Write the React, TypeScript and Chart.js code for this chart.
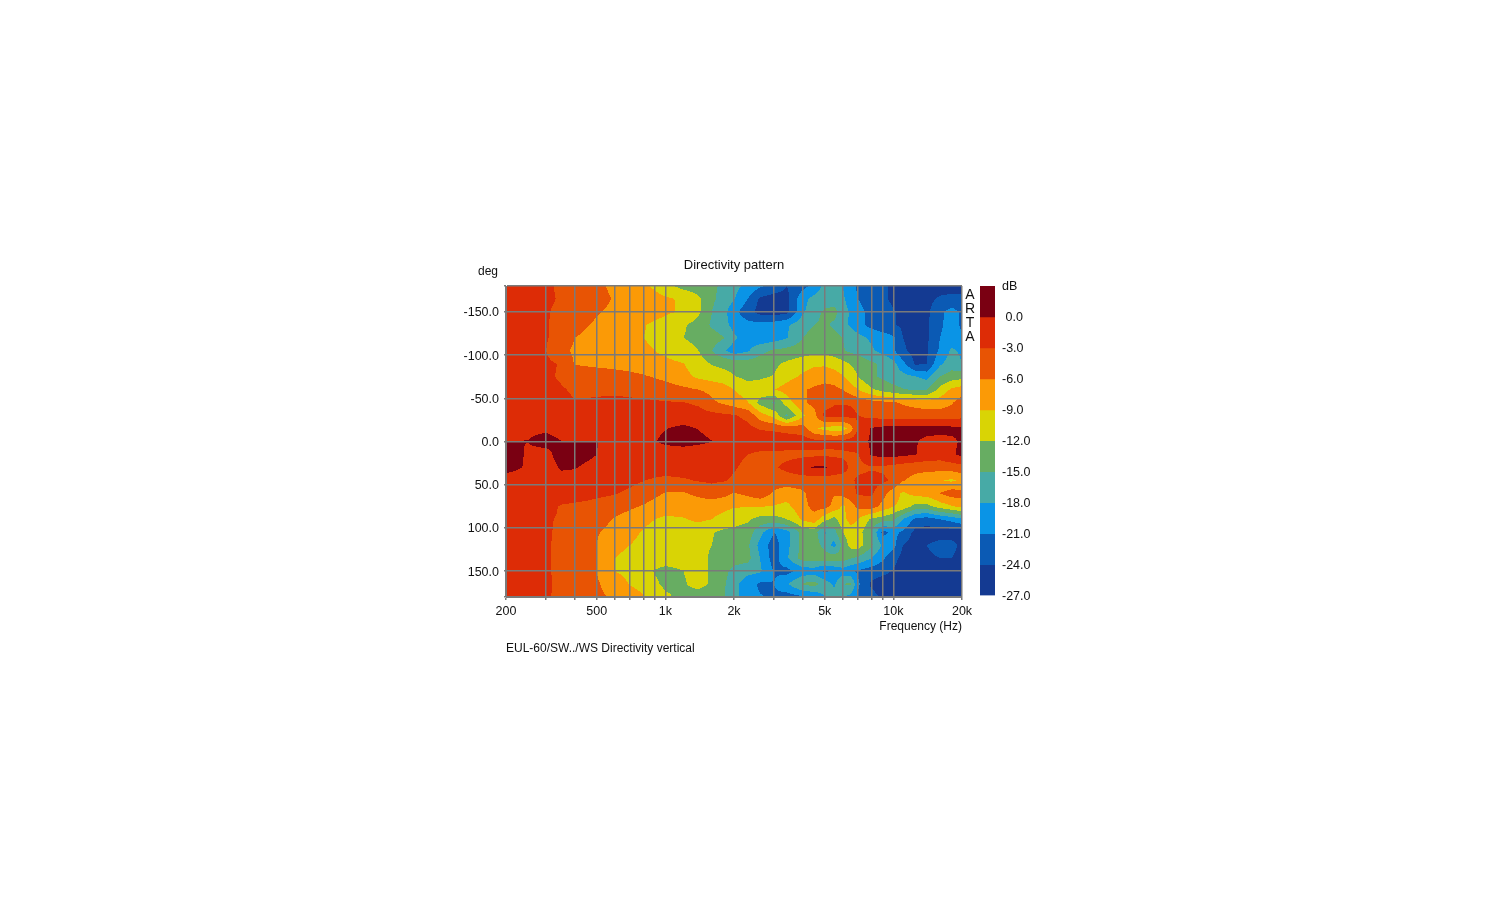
import React, { useEffect, useRef } from "react";
import { Chart, registerables } from "chart.js";

Chart.register(...registerables);

const freqs = [200,250,300,350,400,450,500,600,700,800,900,1000,1200,1400,1600,1800,2000,2300,2600,3000,3400,4000,4500,5000,5500,6000,6500,7000,8000,9000,10000,11000,12500,14000,16000,18000,20000];
const angles = [-180,-165,-150,-135,-120,-105,-90,-75,-60,-45,-30,-15,0,15,30,45,60,75,90,105,120,135,150,165,180];

const rowM180 = [-1.5,-1.5,-2.5,-3.5,-4.5,-5,-5.5,-6.5,-7.5,-8.5,-9.5,-11,-13,-13.5,-14.5,-15.5,-17,-19,-20.5,-22,-24,-22,-20,-17,-16.5,-18,-20,-21.5,-23,-23.5,-24.5,-25.5,-25.5,-25.5,-25.5,-25.5,-25.5];
const rowM165 = [-1.5,-1.5,-2.5,-3.3,-4,-4.5,-5.2,-6.2,-7,-7.5,-8,-8.5,-9.5,-11.5,-14.5,-16,-17.8,-21,-24.5,-25.5,-25,-19,-17,-16.5,-16.5,-17.5,-19.5,-21,-22.5,-23.5,-24.5,-25.5,-25.5,-25,-23.5,-23,-23];
const rowM150 = [-1.5,-2,-2.8,-3.6,-4.3,-5,-5.8,-6.5,-7,-7.5,-8,-8.6,-9.3,-11.5,-15,-17,-20,-23,-25,-25.5,-25,-18.5,-16,-14.5,-14,-16.5,-18.5,-20,-22,-23,-23.8,-24.5,-25.5,-24.8,-21.5,-20,-21.5];
const rowM135 = [-1.5,-2,-2.8,-3.8,-4.8,-5.8,-6.4,-7.2,-8,-8.8,-9.5,-10,-11.7,-13,-15.5,-17,-19,-20,-20,-19.5,-18.5,-16,-15,-14.5,-15.5,-17,-18.5,-20,-22,-23,-23.8,-24.5,-25,-24.5,-21.5,-19.8,-21.5];
const rowM120 = [-1.5,-2,-2.8,-4,-6,-6.6,-7,-7.6,-8.3,-9,-9.6,-10,-12,-12.8,-13.5,-14.8,-17.5,-19.5,-20,-19.5,-18.2,-15,-14,-13.5,-14,-15,-16,-17,-18.5,-19.5,-20.5,-24,-25,-24.5,-21,-19.5,-20.5];
const rowM105 = [-1.5,-2,-3,-5.2,-6.5,-6.8,-7,-7.4,-7.9,-8.4,-9,-9.6,-10.8,-12,-15,-17.5,-19.5,-18.3,-16,-14.5,-14,-13.5,-13,-13,-13.5,-14.8,-15.5,-16,-17.5,-19,-20.5,-23.5,-25,-24.5,-20.5,-17.5,-18.5];
const rowM90 = [-1.5,-1.8,-2.5,-3.2,-6.2,-6.5,-6.7,-6.9,-7.2,-7.6,-8,-8.3,-8.9,-10.5,-12.2,-12.8,-13.2,-13.5,-13.2,-12.6,-11.5,-10.2,-9.5,-9.5,-10.2,-11,-12.2,-13,-14.5,-15.5,-17,-20,-24.5,-24,-18.5,-16.5,-18];
const rowM75 = [-1.5,-1.8,-2.6,-3.3,-3.8,-4,-4.3,-4.8,-5.2,-5.7,-6.2,-6.8,-8.2,-9.5,-10.2,-10.8,-11.8,-12.8,-12.5,-11.8,-10,-8.5,-7.5,-7,-7.5,-8.8,-10.5,-12,-14.5,-15.5,-16.5,-17,-17.8,-19,-15,-13.5,-13];
const rowM60 = [-1.2,-1.5,-2,-2.8,-3.3,-3.4,-3.5,-3.5,-3.7,-3.9,-4.2,-4.5,-5.3,-6,-6.8,-7.4,-9,-10.5,-10.2,-9,-7.8,-6.3,-5.5,-5,-5.2,-6,-7.5,-9,-11.5,-13,-14,-14.8,-15.2,-15,-11,-8.5,-7.5];
const rowM45 = [-1.2,-1.4,-1.8,-2.4,-2.9,-2.8,-2.6,-2.4,-2.5,-2.6,-2.7,-2.8,-2.9,-3.5,-5.5,-6.5,-7.5,-8.8,-13,-15.5,-10.5,-6.5,-5,-4.5,-3.3,-3.2,-3.3,-4,-5,-5.3,-5.7,-6.3,-7,-7.5,-7.5,-6.3,-4.5];
const rowM30 = [-1.2,-1.2,-1.4,-1.5,-1.5,-1.5,-1.5,-1.5,-1.5,-1.4,-1.4,-1.4,-1.5,-1.8,-2,-2.4,-2.7,-3.8,-7.5,-10,-15.5,-9.5,-7,-2,-1.8,-1.8,-2.2,-2.9,-3.8,-4.2,-4.5,-4.5,-4.5,-4.5,-4.5,-4.3,-4];
const rowM15 = [-1,-0.5,-0.5,-1,-1.2,-1.2,-1.2,-1.1,-1,-0.8,-0.4,-0.1,0.6,-0.1,-0.7,-1,-1.5,-2.2,-3.2,-3.6,-4,-4.5,-8.5,-10,-10.5,-10.5,-7.5,-2.5,0.2,0.8,1,1,1,1,0.9,0.8,0.6];
const row0 = [0.05,0.05,1,0.05,0.05,0.05,0.05,-0.6,-0.7,-0.5,-0.1,0.5,1,0.6,0.05,-0.4,-0.8,-1.2,-1.2,-0.8,-1.3,-1.5,-2,-2.2,-2.2,-2,-1.5,-1.2,0.4,1,1.3,1,0.2,-0.7,-0.9,-0.6,0.4];
const row15 = [2,-0.5,-1,1.5,1.2,0.7,0,-0.6,-1,-1.2,-1.3,-1.4,-1.5,-1.8,-2,-2.2,-2.5,-3,-3.6,-3.8,-3.8,-3.7,-3.6,-3.5,-3.5,-3.5,-3.4,-3.2,0.3,1,1,0.6,0.1,-1,-1.5,-0.5,0.8];
const row30 = [0.8,-0.3,-1.5,0.4,0.2,-0.5,-1,-1.2,-1.3,-1.4,-1.5,-1.6,-1.7,-1.8,-2,-2.3,-2.8,-3.5,-4.2,-3.3,-2.3,-0.8,0.3,0.3,-1,-2,-3.5,-3.8,-3.3,-3.5,-4,-4.5,-5,-5,-4.8,-4.5,-4];
const row45 = [-1,-1,-1.1,-1.2,-1.3,-1.4,-1.5,-1.8,-2.2,-2.9,-3.4,-3.7,-3.3,-2.8,-2.6,-2.8,-3.3,-4,-4.5,-4.5,-4.5,-4.5,-4.5,-4.5,-4.5,-4.2,-3.5,-2.5,-2,-2.5,-3.5,-5.8,-7,-7.8,-8.8,-9.5,-8.5];
const row60 = [-1.2,-1.3,-1.4,-1.6,-1.7,-1.9,-2.2,-2.8,-3.6,-4.5,-5.4,-6.2,-6.3,-5.2,-4.2,-5,-6.2,-5.2,-4,-6.5,-7.5,-6.5,-4.5,-3.9,-5.8,-5,-3.8,-2.7,-2.5,-5,-7.5,-9.5,-8,-7.5,-6,-4.5,-5];
const row75 = [-1.5,-1.8,-2.3,-3.2,-3.5,-3.8,-4.2,-4.8,-5.5,-6.2,-7,-7.3,-7.7,-7.9,-8,-8.3,-8.8,-8.8,-8.8,-9.2,-9.8,-7,-5,-4.8,-7,-9.5,-7.5,-5,-4.5,-7,-8.8,-10,-13,-13,-10.5,-9.2,-8];
const row90 = [-1.7,-2,-2.8,-3.2,-3.8,-4.4,-5,-6.2,-7.2,-8.2,-9,-9.6,-9.2,-8.5,-9,-9.8,-10.5,-11.5,-13,-13,-12,-8.5,-7.2,-11,-13,-10,-7.8,-9,-12.5,-13.5,-14.5,-18,-21.5,-22.5,-21,-20,-18.5];
const row105 = [-1.7,-2,-2.8,-3.3,-4,-4.8,-5.8,-6.8,-8,-9.3,-10,-10.2,-10,-10.5,-11.8,-12.6,-13,-13.5,-17,-21,-19,-14,-13.5,-18.5,-16,-12,-10.5,-10.5,-15,-22,-20,-21.5,-25,-25.5,-25.5,-25.5,-25.5];
const row120 = [-1.7,-2,-2.8,-3.4,-4,-4.8,-6,-8.2,-9,-10,-10.4,-10.5,-10.8,-11.2,-12,-13,-13.5,-14.5,-19,-22.5,-19,-14,-13.5,-16,-19,-14,-11,-10.5,-14.5,-18.5,-20,-24,-25.5,-24,-23,-23,-24.8];
const row135 = [-1.7,-2,-2.8,-3.4,-4.1,-5,-6,-9,-9.8,-10.2,-10.4,-10.4,-10.5,-11,-12.5,-13,-13.5,-14,-18,-22.5,-18.5,-13.5,-13.5,-13.5,-13.5,-13.5,-14.8,-15.5,-18,-20.5,-23,-25,-25.5,-24.5,-24,-24,-25];
const row150 = [-1.7,-2,-2.8,-3.4,-4.1,-5,-6,-9,-10,-10.8,-12.2,-13,-12,-10.8,-12.5,-14,-16,-17,-17.5,-21.2,-22,-20,-19.5,-21.5,-20.5,-19.5,-20.5,-21.5,-22.5,-23.2,-24.2,-25.5,-25.5,-25.5,-25.5,-25.5,-25.5];
const row165 = [-1.7,-2,-2.8,-3.3,-4,-4.7,-5.7,-7.2,-9.2,-10,-11.5,-12.6,-12.3,-11,-12.5,-14.5,-17,-19.8,-21.5,-21,-18.5,-14.5,-14,-16.5,-18.5,-15,-14.5,-20.5,-24.5,-25.5,-25.5,-25.5,-25.5,-25.5,-25.5,-25.5,-25.5];
const row180 = [-1.7,-2,-2.8,-3.4,-4.1,-4.7,-5.5,-6.4,-7.5,-8.8,-10,-11.5,-12.8,-13.5,-14,-14.8,-17,-19.5,-20.8,-21.5,-22.5,-21.5,-20.5,-18,-16.5,-17.8,-19,-21.5,-23,-24.5,-25.5,-25.5,-25.5,-25.5,-25.5,-25.5,-25.5];
const dbRows = [rowM180,rowM165,rowM150,rowM135,rowM120,rowM105,rowM90,rowM75,rowM60,rowM45,rowM30,rowM15,row0,row15,row30,row45,row60,row75,row90,row105,row120,row135,row150,row165,row180];

const bandTops = [3,0,-3,-6,-9,-12,-15,-18,-21,-24];
const bandColors = ["#7a0012","#dd2c06","#e85404","#fb9a06","#d9d405","#67ad62","#47aaa6","#0a94e6","#0b5ab4","#143a92"];
const gridFreqs = [200,300,400,500,600,700,800,900,1000,2000,3000,4000,5000,6000,7000,8000,9000,10000,20000];
const freqLabels: Record<number,string> = {200:"200",500:"500",1000:"1k",2000:"2k",5000:"5k",10000:"10k",20000:"20k"};
const angleTicks = [-180,-150,-100,-50,0,50,100,150,180];
const GRID = "#7a7a7a";
const FONT = "'Liberation Sans', Arial, sans-serif";
const INK = "#111111";

const nodes = angles.flatMap((a,r)=>freqs.map((f,c)=>({x:f,y:a,v:dbRows[r][c]})));

function bandIndex(v:number){
  for(let i=bandTops.length-1;i>=0;i--){ if(v<bandTops[i] && (i===bandTops.length-1 || v>=bandTops[i+1])) return i; }
  return v>=3?0:bandTops.length-1;
}
const rgb = bandColors.map(h=>[parseInt(h.slice(1,3),16),parseInt(h.slice(3,5),16),parseInt(h.slice(5,7),16)]);

const contourPlugin = {
  id:"contour",
  beforeDatasetsDraw(chart:any){
    const {ctx,chartArea:ca,scales:{x,y}} = chart;
    const l=Math.round(ca.left),t=Math.round(ca.top),w=Math.round(ca.right-ca.left),h=Math.round(ca.bottom-ca.top);
    const pts = chart.data.datasets[0].data;
    const nc=freqs.length,nr=angles.length;
    const xs=freqs.map(f=>x.getPixelForValue(f));
    const ys=angles.map(a=>y.getPixelForValue(a));
    const off=document.createElement("canvas");off.width=w;off.height=h;
    const oc=off.getContext("2d")!;
    const img=oc.createImageData(w,h);
    let ri=0;
    for(let py=0;py<h;py++){
      const Y=t+py+0.5;
      while(ri<nr-2&&Y>ys[ri+1])ri++;
      const fy=Math.min(1,Math.max(0,(Y-ys[ri])/(ys[ri+1]-ys[ri])));
      let ci=0;
      for(let px=0;px<w;px++){
        const X=l+px+0.5;
        while(ci<nc-2&&X>xs[ci+1])ci++;
        const fx=Math.min(1,Math.max(0,(X-xs[ci])/(xs[ci+1]-xs[ci])));
        const a=pts[ri*nc+ci].v,b=pts[ri*nc+ci+1].v,c=pts[(ri+1)*nc+ci].v,d=pts[(ri+1)*nc+ci+1].v;
        const v=(a*(1-fx)+b*fx)*(1-fy)+(c*(1-fx)+d*fx)*fy;
        const col=rgb[bandIndex(v)];
        const o=(py*w+px)*4;
        img.data[o]=col[0];img.data[o+1]=col[1];img.data[o+2]=col[2];img.data[o+3]=255;
      }
    }
    oc.putImageData(img,0,0);
    ctx.drawImage(off,l,t);
  },
  afterDraw(chart:any){
    const {ctx}=chart;
    ctx.save();
    ctx.fillStyle=INK;
    ctx.font=`12px ${FONT}`;
    ctx.textBaseline="middle";
    ctx.textAlign="left";
    ctx.fillText("deg",478,272);
    ctx.fillText("EUL-60/SW../WS Directivity vertical",506,649);
    ctx.font=`14px ${FONT}`;
    ctx.textAlign="center";
    ["A","R","T","A"].forEach((s,i)=>ctx.fillText(s,970,295+i*14));
    ctx.restore();
  }
};

export default function App(){
  const mainRef=useRef<HTMLCanvasElement>(null);
  const barRef=useRef<HTMLCanvasElement>(null);
  useEffect(()=>{
    const main=new Chart(mainRef.current!,{
      type:"scatter",
      data:{datasets:[{label:"dB",data:nodes as any,pointRadius:0,showLine:false}]},
      plugins:[contourPlugin as any],
      options:{
        animation:false,responsive:false,
        layout:{padding:{left:446,right:538,top:258,bottom:266}},
        plugins:{
          legend:{display:false},tooltip:{enabled:false},
          title:{display:true,text:"Directivity pattern",fullSize:false,color:INK,font:{family:FONT,size:13,weight:"normal"},padding:{top:0,bottom:12.4}} as any
        },
        scales:{
          x:{type:"logarithmic",min:200,max:20000,
            afterBuildTicks:(s:any)=>{s.ticks=gridFreqs.map(v=>({value:v}));},
            afterFit:(s:any)=>{s.height=37;},
            grid:{color:GRID,lineWidth:1.5,z:1,tickLength:3},
            border:{color:GRID,z:2},
            ticks:{autoSkip:false,maxRotation:0,padding:4,color:INK,font:{family:FONT,size:12.5},callback:(v:any)=>freqLabels[v]??""},
            title:{display:true,text:"Frequency (Hz)",align:"end",color:INK,font:{family:FONT,size:12},padding:{top:1,bottom:0}}
          },
          y:{type:"linear",reverse:true,min:-180,max:180,
            afterBuildTicks:(s:any)=>{s.ticks=angleTicks.map(v=>({value:v}));},
            afterFit:(s:any)=>{s.width=60;},
            grid:{color:GRID,lineWidth:1.5,z:1,tickLength:2},
            border:{color:GRID,z:2},
            ticks:{autoSkip:false,padding:5,labelOffset:1,color:INK,font:{family:FONT,size:12.5},callback:(v:any)=>Math.abs(v)===180?"":Number(v).toFixed(1)}
          }
        }
      }
    });
    const bar=new Chart(barRef.current!,{
      type:"bar",
      data:{labels:["dB"],datasets:bandTops.map((top,i)=>({label:String(top),data:[[top-3,top]] as any,backgroundColor:bandColors[i],barPercentage:1,categoryPercentage:1,grouped:false} as any))},
      options:{
        animation:false,responsive:false,
        layout:{padding:{left:5,right:0,top:16,bottom:13}},
        plugins:{legend:{display:false},tooltip:{enabled:false}},
        scales:{
          x:{display:false},
          y:{position:"right",min:-27,max:3,
            afterBuildTicks:(s:any)=>{s.ticks=bandTops.concat(-27).map(v=>({value:v}));},
            afterFit:(s:any)=>{s.width=50;},
            grid:{display:false,drawTicks:false},border:{display:false},
            ticks:{autoSkip:false,padding:7,labelOffset:1,color:INK,font:{family:FONT,size:12.5},callback:(v:any)=>v===3?"dB":v===0?" 0.0":Number(v).toFixed(1)}
          }
        }
      }
    });
    return ()=>{main.destroy();bar.destroy();};
  },[]);
  return (
    <div style={{position:"relative",width:1484,height:884}}>
      <canvas ref={mainRef} width={1500} height={900} style={{position:"fixed",left:0,top:0,filter:"blur(0.35px)"}}/>
      <canvas ref={barRef} width={70} height={340} style={{position:"fixed",left:975,top:270,filter:"blur(0.35px)"}}/>
    </div>
  );
}
